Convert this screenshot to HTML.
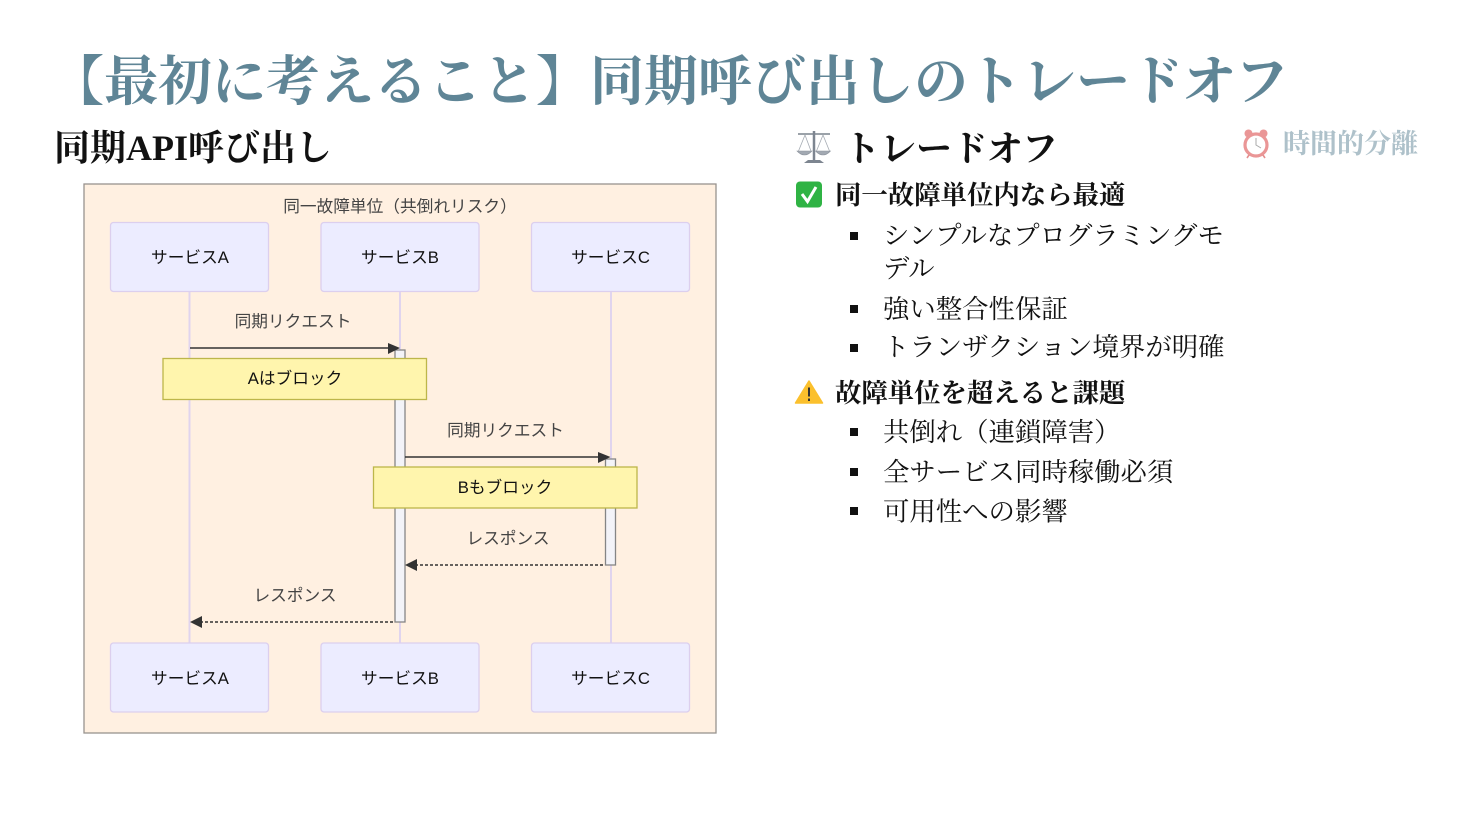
<!DOCTYPE html>
<html lang="ja"><head><meta charset="utf-8"><title>同期呼び出しのトレードオフ</title>
<style>
html,body{margin:0;padding:0;background:#fff;width:1470px;height:828px;overflow:hidden}
svg{display:block}
.s{font-family:"Liberation Serif","Noto Serif CJK JP",serif}
.d{font-family:"Liberation Sans","Noto Sans CJK JP",sans-serif;font-size:16.7px;text-anchor:middle}
.b{font-weight:700}
.li{font-size:26.4px;fill:#111}
.h3{font-size:26.4px;font-weight:700;fill:#111}
.act{fill:#f3f3f8;stroke:#858585;stroke-width:1.3}
.box{fill:#ececff;stroke:#dccfee;stroke-width:1.3}
.note{fill:#fff5ad;stroke:#bdb64a;stroke-width:1.3}
.life{stroke:#e0d4ee;stroke-width:2}
</style></head><body>
<svg width="1470" height="828" viewBox="0 0 1470 828" xmlns="http://www.w3.org/2000/svg">
<rect width="1470" height="828" fill="#fff"/>
<text class="s b" x="50" y="100" font-size="54" fill="#5f8596">【最初に考えること】同期呼び出しのトレードオフ</text>
<text class="s b" x="54" y="160" font-size="36" fill="#111">同期API呼び出し</text>

<rect x="84" y="184" width="632" height="549" fill="#fff0e1" stroke="#98938e" stroke-width="1.3"/>
<text class="d" x="400" y="212" fill="#444">同一故障単位（共倒れリスク）</text>
<line class="life" x1="189.500" y1="291" x2="189.500" y2="643"/>
<line class="life" x1="400" y1="291" x2="400" y2="643"/>
<line class="life" x1="611" y1="291" x2="611" y2="643"/>
<rect class="box" x="110.500" y="222.500" width="158" height="69" rx="3"/>
<rect class="box" x="321" y="222.500" width="158" height="69" rx="3"/>
<rect class="box" x="531.500" y="222.500" width="158" height="69" rx="3"/>
<text class="d" x="190" y="263" fill="#111">サービスA</text>
<text class="d" x="400" y="263" fill="#111">サービスB</text>
<text class="d" x="610.500" y="263" fill="#111">サービスC</text>
<rect class="box" x="110.500" y="643" width="158" height="69" rx="3"/>
<rect class="box" x="321" y="643" width="158" height="69" rx="3"/>
<rect class="box" x="531.500" y="643" width="158" height="69" rx="3"/>
<text class="d" x="190" y="684" fill="#111">サービスA</text>
<text class="d" x="400" y="684" fill="#111">サービスB</text>
<text class="d" x="610.500" y="684" fill="#111">サービスC</text>

<rect class="act" x="395" y="350" width="10" height="272"/>
<rect class="act" x="605.500" y="459" width="10" height="106"/>

<text class="d" x="293" y="327" fill="#444">同期リクエスト</text>
<line x1="190" y1="348" x2="390" y2="348" stroke="#333" stroke-width="1.4"/>
<path d="M388 343 L400 348 L388 354 Z" fill="#333"/>
<text class="d" x="505.500" y="436" fill="#444">同期リクエスト</text>
<line x1="405" y1="457" x2="600" y2="457" stroke="#333" stroke-width="1.4"/>
<path d="M598 452 L610.500 457 L598 463 Z" fill="#333"/>
<text class="d" x="508" y="544" fill="#444">レスポンス</text>
<line x1="415" y1="565" x2="605" y2="565" stroke="#333" stroke-width="1.4" stroke-dasharray="3 2"/>
<path d="M417 559 L405 565 L417 571 Z" fill="#333"/>
<text class="d" x="295" y="601" fill="#444">レスポンス</text>
<line x1="200" y1="622" x2="395" y2="622" stroke="#333" stroke-width="1.4" stroke-dasharray="3 2"/>
<path d="M202 616 L190 622 L202 628 Z" fill="#333"/>

<rect class="note" x="163" y="358.500" width="263.500" height="41"/>
<text class="d" x="295" y="384" fill="#111">Aはブロック</text>
<rect class="note" x="373.500" y="467" width="263.500" height="41"/>
<text class="d" x="505" y="493" fill="#111">Bもブロック</text>

<!-- scales -->
<g fill="none" stroke="#8b929b">
<path d="M798 134 L830 134" stroke="#8d949d" stroke-width="1.800"/>
<path d="M814 131 L814 161" stroke="#7d8590" stroke-width="2.500"/>
<path d="M805 135 L798.500 151 M805 135 L811 151 M823 135 L816.500 151 M823 135 L829.500 151" stroke="#a5abb3" stroke-width=".8"/>
<path d="M797 151 Q804.500 159 812 151 Z M815.500 151 Q823 159 830.500 151 Z" fill="#a2a9b2" stroke="#8d949d" stroke-width=".6"/>
<path d="M804 163 L824 163 L820 160 L808 160 Z" fill="#7d8590" stroke="none"/>
</g>
<text class="s b" x="844" y="161" font-size="36" fill="#111">トレードオフ</text>

<!-- clock -->
<g opacity=".5">
<circle cx="1248.500" cy="133.500" r="4" fill="#d62f2f"/><circle cx="1263.500" cy="133.500" r="4" fill="#d62f2f"/>
<circle cx="1256" cy="145" r="11" fill="#fff" stroke="#d62f2f" stroke-width="3.200"/>
<path d="M1256 138 V145 L1261 148" fill="none" stroke="#555" stroke-width="1"/>
<path d="M1249 155 L1247 158 M1263 155 L1265 158" stroke="#c22" stroke-width="1.600"/>
</g>
<text class="s b" x="1283" y="153" font-size="27" fill="#5f8596" opacity=".5">時間的分離</text>

<!-- check -->
<rect x="796" y="181.500" width="26" height="26" rx="4" fill="#2fb344"/>
<path d="M802 194 L807.500 201.500 L816 187" fill="none" stroke="#fff" stroke-width="3"/>
<text class="s h3" x="835" y="204">同一故障単位内なら最適</text>

<rect x="850" y="232" width="8" height="8" fill="#111"/>
<text class="s li" x="883" y="244.500">シンプルなプログラミングモ</text>
<text class="s li" x="883" y="277.500">デル</text>
<rect x="850" y="305" width="8" height="8" fill="#111"/>
<text class="s li" x="883" y="318">強い整合性保証</text>
<rect x="850" y="344" width="8" height="8" fill="#111"/>
<text class="s li" x="883" y="356">トランザクション境界が明確</text>

<!-- warning -->
<path d="M809 381 L822.500 403 L795.500 403 Z" fill="#fbc02d" stroke="#fbc02d" stroke-width="1.500" stroke-linejoin="round"/>
<path d="M809 387.500 V396.500 M809 398.500 V401" stroke="#333" stroke-width="2"/>
<text class="s h3" x="835" y="402">故障単位を超えると課題</text>

<rect x="850" y="428" width="8" height="8" fill="#111"/>
<text class="s li" x="883" y="441">共倒れ（連鎖障害）</text>
<rect x="850" y="468" width="8" height="8" fill="#111"/>
<text class="s li" x="883" y="481">全サービス同時稼働必須</text>
<rect x="850" y="507" width="8" height="8" fill="#111"/>
<text class="s li" x="883" y="520.500">可用性への影響</text>
</svg>
</body></html>
